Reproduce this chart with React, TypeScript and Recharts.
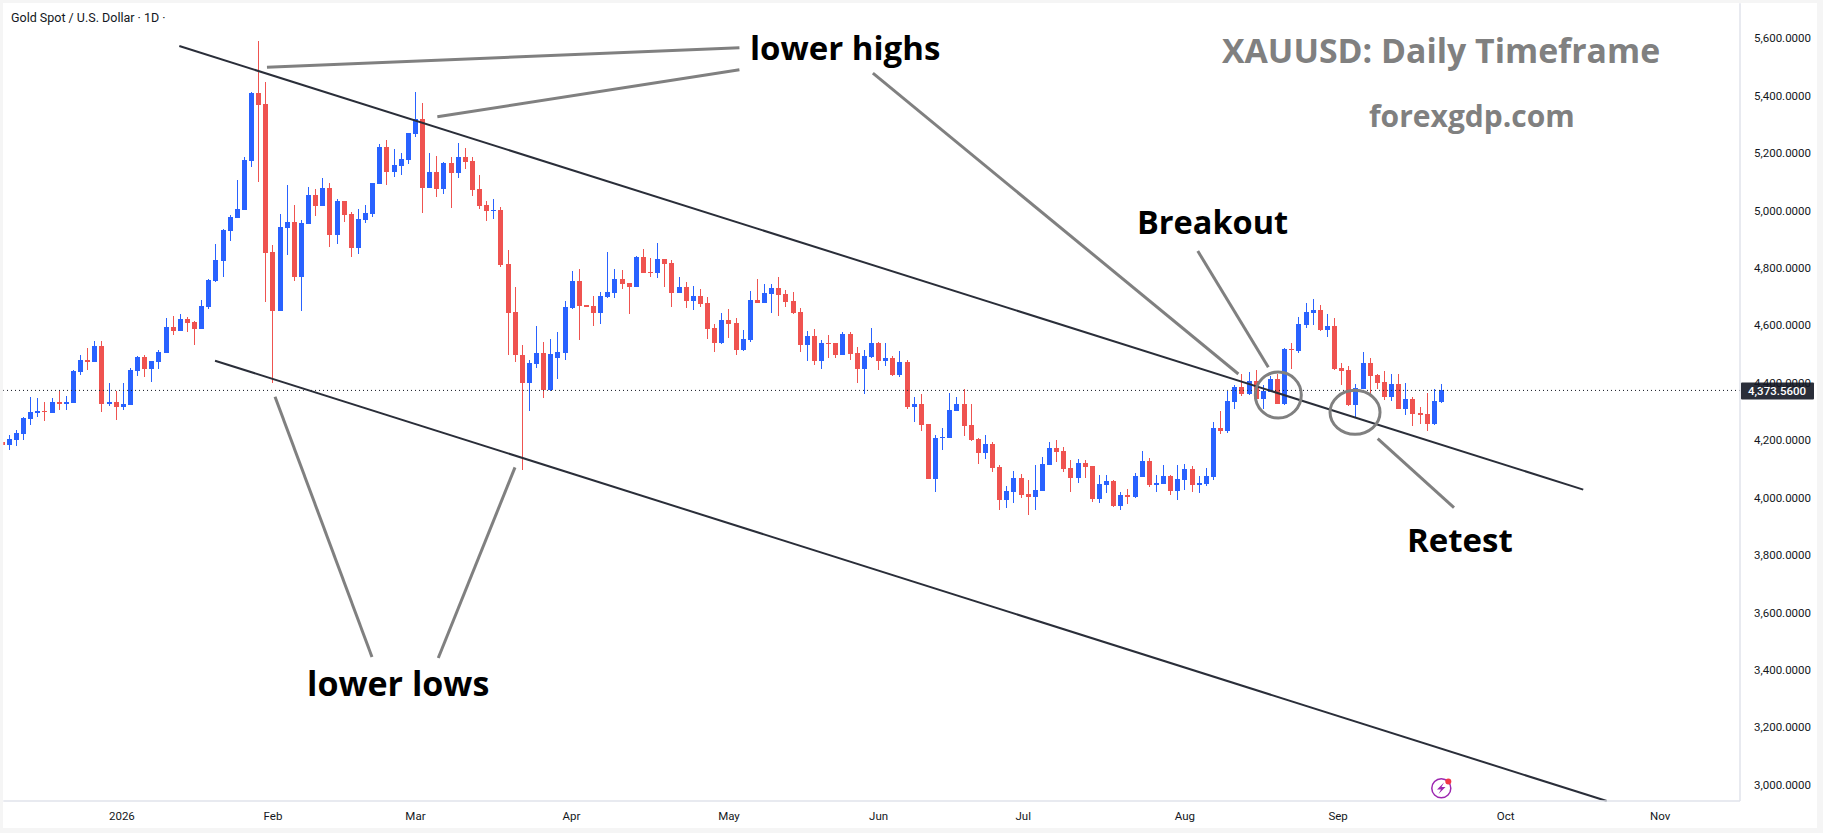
import { Bar, ComposedChart, ReferenceDot, ReferenceLine, XAxis, YAxis } from "recharts";

const UP = "#2962ff";
const DOWN = "#ef5350";
const BORDER = "#e0e3eb";
const TEXT = "#131722";
const NOTE_LINE = "#808080";
const CHANNEL = "#2a2e39";
const LAST_PRICE = 4373.56;

const opens = [
  4193, 4184, 4201, 4222, 4274, 4295, 4302, 4295, 4333, 4326,
  4330, 4438, 4480, 4473, 4528, 4326, 4333, 4316, 4323, 4441,
  4490, 4448, 4473, 4504, 4594, 4581, 4622, 4612, 4588, 4664,
  4755, 4824, 4929, 4974, 5002, 5173, 5410, 5371, 4856, 4650,
  4939, 4960, 4769, 4953, 5054, 5016, 5079, 4915, 5033, 4988,
  4870, 4967, 4988, 5093, 5221, 5134, 5155, 5176, 5267, 5319,
  5079, 5134, 5075, 5166, 5131, 5187, 5173, 5075, 5019, 4999,
  5002, 4814, 4647, 4497, 4399, 4466, 4504, 4375, 4487, 4504,
  4661, 4755, 4671, 4668, 4643, 4699, 4713, 4762, 4748, 4734,
  4838, 4786, 4783, 4831, 4817, 4713, 4734, 4685, 4702, 4678,
  4591, 4539, 4619, 4608, 4514, 4549, 4689, 4678, 4709, 4730,
  4709, 4685, 4647, 4532, 4563, 4476, 4539, 4539, 4497, 4570,
  4504, 4448, 4490, 4539, 4476, 4487, 4427, 4473, 4316, 4326,
  4257, 4065, 4208, 4208, 4302, 4326, 4253, 4204, 4156, 4187,
  4107, 3992, 4020, 4069, 4013, 4002, 4023, 4114, 4173, 4163,
  4103, 4069, 4121, 4110, 3995, 4044, 4058, 3971, 4009, 4002,
  4072, 4128, 4044, 4048, 4075, 4023, 4062, 4100, 4044, 4048,
  4072, 4243, 4232, 4333, 4385, 4361, 4406, 4344, 4368, 4413,
  4326, 4518, 4511, 4601, 4643, 4654, 4584, 4598, 4452, 4445,
  4323, 4378, 4469, 4427, 4403, 4351, 4396, 4309, 4344, 4295,
  4291, 4257, 4333,
];
const highs = [
  4200, 4218, 4236, 4281, 4351, 4347, 4333, 4347, 4372, 4354,
  4445, 4497, 4521, 4546, 4546, 4399, 4372, 4399, 4452, 4493,
  4497, 4476, 4514, 4626, 4633, 4640, 4629, 4615, 4689, 4762,
  4884, 4936, 4985, 5107, 5187, 5413, 5591, 5448, 4880, 4988,
  5089, 5019, 4967, 5082, 5075, 5113, 5096, 5040, 5033, 4995,
  5005, 5019, 5096, 5232, 5246, 5214, 5201, 5270, 5413, 5375,
  5201, 5190, 5169, 5187, 5235, 5218, 5187, 5124, 5033, 5040,
  5014, 4863, 4734, 4532, 4480, 4598, 4542, 4553, 4577, 4685,
  4790, 4797, 4671, 4702, 4716, 4856, 4797, 4793, 4748, 4842,
  4866, 4835, 4887, 4831, 4828, 4769, 4751, 4737, 4727, 4699,
  4605, 4643, 4657, 4626, 4584, 4720, 4762, 4744, 4744, 4769,
  4723, 4716, 4661, 4581, 4588, 4549, 4567, 4539, 4577, 4577,
  4525, 4514, 4591, 4542, 4539, 4493, 4511, 4480, 4351, 4361,
  4257, 4218, 4243, 4365, 4351, 4379, 4326, 4208, 4218, 4194,
  4114, 4041, 4093, 4082, 4062, 4114, 4142, 4194, 4201, 4176,
  4131, 4135, 4131, 4110, 4079, 4079, 4062, 4020, 4030, 4086,
  4163, 4138, 4079, 4114, 4079, 4114, 4117, 4110, 4075, 4103,
  4264, 4302, 4372, 4392, 4431, 4438, 4445, 4392, 4424, 4431,
  4521, 4539, 4629, 4678, 4692, 4671, 4640, 4626, 4469, 4459,
  4396, 4507, 4486, 4431, 4441, 4431, 4431, 4399, 4351, 4316,
  4365, 4378, 4396,
];
const lows = [
  4180, 4166, 4180, 4201, 4253, 4281, 4267, 4295, 4305, 4305,
  4330, 4427, 4445, 4473, 4298, 4319, 4271, 4305, 4323, 4424,
  4420, 4403, 4448, 4504, 4567, 4581, 4577, 4532, 4588, 4657,
  4751, 4769, 4894, 4974, 5002, 5152, 5100, 4682, 4399, 4650,
  4845, 4755, 4650, 4953, 4981, 5016, 4873, 4884, 4960, 4838,
  4849, 4957, 4978, 5093, 5089, 5117, 5124, 5162, 5256, 4992,
  5079, 5047, 5058, 5009, 5113, 5145, 5051, 5005, 4964, 4971,
  4805, 4497, 4473, 4096, 4302, 4452, 4347, 4372, 4413, 4480,
  4657, 4549, 4664, 4598, 4605, 4696, 4696, 4727, 4640, 4734,
  4783, 4769, 4765, 4734, 4664, 4713, 4661, 4654, 4664, 4553,
  4507, 4535, 4556, 4497, 4511, 4542, 4678, 4678, 4643, 4633,
  4664, 4640, 4507, 4476, 4462, 4448, 4487, 4487, 4497, 4480,
  4399, 4361, 4487, 4445, 4459, 4424, 4420, 4309, 4264, 4232,
  4065, 4020, 4166, 4208, 4302, 4215, 4197, 4117, 4135, 4089,
  3957, 3964, 3981, 3999, 3940, 3957, 4023, 4114, 4124, 4089,
  4020, 4051, 4069, 3985, 3981, 4016, 3968, 3957, 3978, 3999,
  4072, 4037, 4020, 4048, 4009, 3992, 4027, 4020, 4016, 4041,
  4062, 4222, 4225, 4309, 4354, 4358, 4344, 4309, 4368, 4326,
  4323, 4448, 4504, 4591, 4601, 4581, 4560, 4445, 4392, 4319,
  4278, 4378, 4361, 4378, 4340, 4337, 4309, 4288, 4250, 4257,
  4232, 4253, 4330,
];
const closes = [
  4185, 4204, 4225, 4278, 4298, 4302, 4298, 4333, 4326, 4333,
  4441, 4480, 4473, 4528, 4326, 4333, 4316, 4326, 4445, 4490,
  4448, 4476, 4507, 4594, 4581, 4622, 4608, 4588, 4668, 4758,
  4828, 4932, 4978, 5005, 5176, 5410, 5368, 4852, 4650, 4943,
  4960, 4769, 4957, 5054, 5016, 5079, 4915, 5033, 4985, 4870,
  4971, 4992, 5096, 5221, 5134, 5159, 5180, 5270, 5319, 5079,
  5134, 5075, 5166, 5131, 5187, 5169, 5072, 5016, 4999, 5002,
  4810, 4643, 4497, 4399, 4469, 4504, 4375, 4500, 4507, 4664,
  4755, 4668, 4664, 4643, 4702, 4716, 4762, 4744, 4734, 4838,
  4783, 4783, 4831, 4814, 4713, 4734, 4685, 4702, 4675, 4588,
  4539, 4619, 4605, 4514, 4553, 4689, 4678, 4713, 4730, 4706,
  4682, 4643, 4532, 4563, 4476, 4539, 4535, 4497, 4570, 4500,
  4448, 4493, 4539, 4476, 4487, 4427, 4473, 4316, 4326, 4253,
  4065, 4208, 4211, 4305, 4326, 4250, 4201, 4156, 4187, 4103,
  3992, 4023, 4069, 4009, 4002, 4027, 4117, 4173, 4159, 4100,
  4069, 4121, 4107, 3995, 4048, 4058, 3971, 4009, 4002, 4075,
  4128, 4044, 4051, 4075, 4023, 4065, 4100, 4044, 4051, 4075,
  4243, 4232, 4337, 4385, 4361, 4406, 4344, 4372, 4413, 4326,
  4518, 4514, 4605, 4647, 4654, 4584, 4598, 4448, 4441, 4323,
  4382, 4469, 4424, 4399, 4351, 4396, 4309, 4344, 4291, 4288,
  4257, 4337, 4373.56,
];

const priceTicks = [3000, 3200, 3400, 3600, 3800, 4000, 4200, 4400, 4600, 4800, 5000, 5200, 5400, 5600];
const monthSlots = [16.8, 38, 58, 79.9, 102, 123, 143.3, 166, 187.5, 211, 232.7];
const monthLabels = ["2026", "Feb", "Mar", "Apr", "May", "Jun", "Jul", "Aug", "Sep", "Oct", "Nov"];

// [slot, price, slot, price]
const channelLines = [
  [24.86, 5573.2, 221.9, 4028.1],
  [29.87, 4477.1, 225.2, 2943.4],
];
const noteLines = [
  [37.16, 5499, 103.47, 5567.3],
  [61.07, 5327, 103.47, 5490.3],
  [122.2, 5478.4, 173.5, 4430.7],
  [167.8, 4859.1, 177.7, 4454.1],
  [193.05, 4205.4, 203.76, 3965],
  [38.29, 4351.7, 51.9, 3445.4],
  [71.97, 4105.4, 61.2, 3441.5],
];
const rings = [
  [179.1, 4357.6, 23, 23],
  [189.87, 4297.3, 25, 22],
];

const candles = opens.map((open, i) => ({
  slot: i,
  open,
  close: closes[i],
  high: highs[i],
  low: lows[i],
  range: [lows[i], highs[i]],
}));

function Candle(props: any) {
  const { x, y, width, height, payload } = props;
  const { open, close, high, low } = payload;
  const color = close >= open ? UP : DOWN;
  const perUnit = height / (high - low);
  const bodyTop = Math.round(y + (high - Math.max(open, close)) * perUnit);
  const bodyBottom = Math.round(y + (high - Math.min(open, close)) * perUnit);
  const left = Math.round(x + width / 2 - 2.5);
  return (
    <g shapeRendering="crispEdges">
      <rect x={left + 2} y={Math.round(y)} width={1} height={Math.max(1, Math.round(height))} fill={color} />
      <rect x={left} y={bodyTop} width={5} height={Math.max(1, bodyBottom - bodyTop)} fill={color} />
    </g>
  );
}

function PriceTag(props: any) {
  const { x, y, width } = props.viewBox;
  return (
    <g>
      <rect x={x + width + 1} y={y - 8} width={73} height={17} rx={1} fill="#2a2e39" />
      <text x={x + width + 8} y={y + 4.5} fill="#fff" fontSize={11.5} fontWeight={500} fontFamily="Roboto, sans-serif">
        {LAST_PRICE.toLocaleString("en-US", { minimumFractionDigits: 4 })}
      </text>
    </g>
  );
}

function Ring(props: any) {
  return <ellipse cx={props.cx} cy={props.cy} rx={props.rx} ry={props.ry} fill="none" stroke={NOTE_LINE} strokeWidth={3} />;
}

const note = { fontFamily: "'Open Sans', sans-serif", fontWeight: 700 };

export default function App() {
  return (
    <div style={{ position: "absolute", left: 0, top: 0, width: 1823, height: 833, background: "#f5f5f5" }}>
      <div style={{ position: "absolute", left: 3, top: 3, width: 1814, height: 825, background: "#fff" }} />
      <div style={{ position: "absolute", left: 0, top: 0 }}>
        <ComposedChart
          width={1823}
          height={833}
          data={candles}
          margin={{ top: 3.3, right: 6, bottom: 5, left: 3.3 }}
        >
          <XAxis
            dataKey="slot"
            type="number"
            domain={[0.154, 243.9]}
            allowDataOverflow
            ticks={monthSlots}
            interval={0}
            tickFormatter={(v) => monthLabels[monthSlots.indexOf(v)]}
            tick={{ fontSize: 11.5, fill: TEXT, fontFamily: "Roboto, sans-serif" }}
            tickLine={false}
            stroke={BORDER}
            strokeWidth={1.5}
            height={27}
            tickMargin={5}
          />
          <YAxis
            orientation="right"
            domain={[2943.5, 5721.9]}
            allowDataOverflow
            ticks={priceTicks}
            interval={0}
            tickFormatter={(v) => v.toLocaleString("en-US", { minimumFractionDigits: 4 })}
            tick={{ fontSize: 11.5, fill: TEXT, fontFamily: "Roboto, sans-serif" }}
            tickLine={false}
            stroke={BORDER}
            strokeWidth={1.5}
            width={77}
            tickMargin={8}
          />
          <ReferenceLine y={LAST_PRICE} stroke={TEXT} strokeDasharray="1 3" label={<PriceTag />} />
          <Bar dataKey="range" barSize={5} isAnimationActive={false} shape={Candle} />
          {channelLines.map(([x1, y1, x2, y2], i) => (
            <ReferenceLine
              key={i}
              segment={[{ x: x1, y: y1 }, { x: x2, y: y2 }]}
              stroke={CHANNEL}
              strokeWidth={2}
              ifOverflow="visible"
            />
          ))}
          {noteLines.map(([x1, y1, x2, y2], i) => (
            <ReferenceLine
              key={i}
              segment={[{ x: x1, y: y1 }, { x: x2, y: y2 }]}
              stroke={NOTE_LINE}
              strokeWidth={3}
              ifOverflow="visible"
            />
          ))}
          {rings.map(([x, y, rx, ry], i) => (
            <ReferenceDot key={i} x={x} y={y} r={rx} shape={(p: any) => <Ring {...p} rx={rx} ry={ry} />} />
          ))}
        </ComposedChart>
      </div>
      <svg width={1823} height={833} style={{ position: "absolute", left: 0, top: 0, pointerEvents: "none" }}>
        <text x={11} y={22} fontSize={12.5} fill={TEXT} fontFamily="Roboto, sans-serif">
          Gold Spot / U.S. Dollar · 1D ·
        </text>
        <text x={750} y={60} fontSize={33} fill="#000" {...note}>lower highs</text>
        <text x={307} y={696} fontSize={34} fill="#000" {...note}>lower lows</text>
        <text x={1137} y={234} fontSize={32.5} fill="#000" {...note}>Breakout</text>
        <text x={1407} y={552} fontSize={33} fill="#000" {...note}>Retest</text>
        <text x={1222} y={63} fontSize={33.8} fill={NOTE_LINE} {...note}>XAUUSD: Daily Timeframe</text>
        <text x={1369} y={127} fontSize={30} fill={NOTE_LINE} {...note}>forexgdp.com</text>
        <g fill="none">
          <circle cx={1441.3} cy={788.3} r={9.5} stroke="#9c27b0" strokeWidth={1.5} />
          <path d="M1444 782.5 L1437 789.5 L1441 789.5 L1438.5 794 L1445.5 787 L1441.5 787 Z" fill="#9c27b0" />
          <circle cx={1448.3} cy={781.5} r={3} fill="#f23645" />
        </g>
      </svg>
    </div>
  );
}
